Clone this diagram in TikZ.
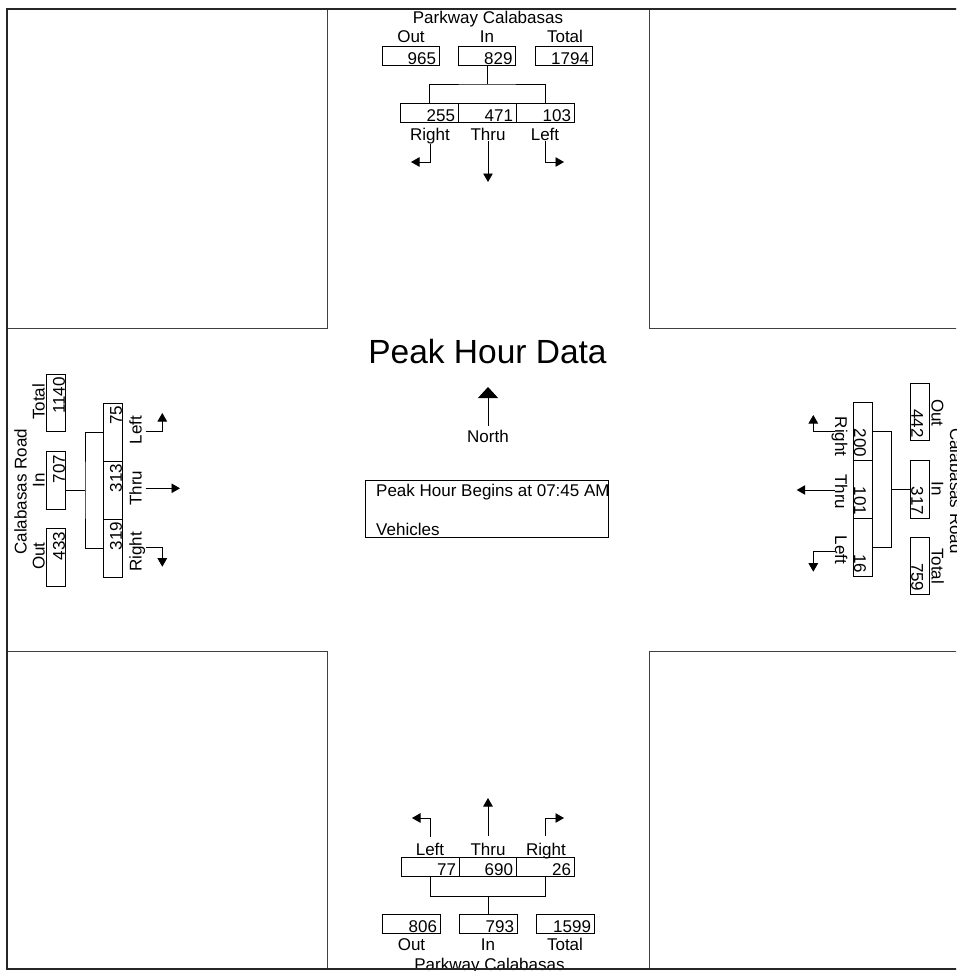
\documentclass[tikz,border=0pt]{standalone}
\usepackage{fontspec}
\setmainfont{Liberation Sans}
\usetikzlibrary{arrows.meta}
\newcommand\fsz{\fontsize{17}{19}\selectfont}
\newcommand\fbig{\fontsize{33.5}{36}\selectfont}
\begin{document}
\begin{tikzpicture}[x=1pt,y=-1pt,
  lab/.style={font=\fsz, inner sep=0pt},
  nb/.style={draw, line width=0.8pt, font=\fsz, minimum height=19pt, inner ysep=0pt, inner xsep=3pt,
    text width=#1, align=right, text height=17.5pt, text depth=0pt},
  ln/.style={line width=0.9pt},
  arr/.style={ln, -{Triangle[width=9.5pt,length=8.5pt]}},
  frame/.style={line width=2.6pt, black!85},
  cb/.style={line width=1pt, black!75}]
\useasboundingbox (0,0) rectangle (956,971);
\clip (0,0) rectangle (956,971);
\fill[white] (0,0) rectangle (956,971);

% corner blocks
\draw[cb] (7,9) rectangle (327,328);
\draw[cb] (649,9) rectangle (975,328);
\draw[cb] (7,651) rectangle (327,969);
\draw[cb] (649,651) rectangle (975,969);

% ---------------- top approach ----------------
\node[lab, anchor=base] (tTitle) at (488,23.5) {Parkway Calabasas};
\node[lab, anchor=base] (tOutL) at (411,43) {Out};
\node[lab, anchor=base] (tInL) at (487,43) {In};
\node[lab, anchor=base] (tTotL) at (565,43) {Total};
\node[nb=51pt] (tOut) at (410.5,55.5) {965};
\node[nb=51pt] (tIn) at (487,55.5) {829};
\node[nb=51pt] (tTot) at (563.5,55.5) {1794};
\node[nb=52pt] (tR) at (429,113) {255};
\node[nb=52pt] (tT) at (487,113) {471};
\node[nb=52pt] (tL) at (545,113) {103};
\coordinate (tJ) at (487,84);
\draw[ln] (tIn.south) -- (tJ);
\draw[ln] (tR.north) |- (tJ) -| (tL.north);
\node[lab, anchor=base] (tRL) at (430,140.5) {Right};
\node[lab, anchor=base] (tTL) at (488,140.5) {Thru};
\node[lab, anchor=base] (tLL) at (545,140.5) {Left};
\coordinate (tRa) at (411,162);
\coordinate (tTa) at (488,182);
\coordinate (tLa) at (564,162);
\draw[arr] (tRL.south) |- (tRa);
\draw[arr] (tTL.south) -- (tTa);
\draw[arr] (tLL.south) |- (tLa);

% ---------------- bottom approach ----------------
\node[lab, anchor=base] (bLL) at (430,855) {Left};
\node[lab, anchor=base] (bTL) at (488,855) {Thru};
\node[lab, anchor=base] (bRL) at (546,855) {Right};
\coordinate (bLa) at (412,818);
\coordinate (bTa) at (488,798);
\coordinate (bRa) at (564,818);
\draw[arr] ([yshift=6pt]bLL.north) |- (bLa);
\draw[arr] ([yshift=6pt]bTL.north) -- (bTa);
\draw[arr] ([yshift=6pt,xshift=-1pt]bRL.north) |- (bRa);
\node[nb=52pt] (bL) at (430,866.5) {77};
\node[nb=51pt] (bT) at (487.5,866.5) {690};
\node[nb=52pt] (bR) at (545,866.5) {26};
\node[nb=52pt] (bOut) at (411,923.5) {806};
\node[nb=52pt] (bIn) at (488,923.5) {793};
\node[nb=52pt] (bTot) at (565,923.5) {1599};
\coordinate (bJ) at (488,896);
\draw[ln] (bL.south) |- (bJ) -| (bR.south);
\draw[ln] (bJ) -- (bIn.north);
\node[lab, anchor=base] (bOutL) at (411.5,950) {Out};
\node[lab, anchor=base] (bInL) at (488,950) {In};
\node[lab, anchor=base] (bTotL) at (565,950) {Total};
\node[lab, anchor=base] (bTitle) at (489.5,970.5) {Parkway Calabasas};

% ---------------- left approach ----------------
\node[lab, rotate=90, anchor=base] (lTitle) at (26.7,491.7) {Calabasas Road};
\node[lab, rotate=90, anchor=base] (lTotL) at (44.5,402) {Total};
\node[lab, rotate=90, anchor=base] (lInL) at (44.5,480) {In};
\node[lab, rotate=90, anchor=base] (lOutL) at (44.5,556) {Out};
\node[nb=51.5pt, rotate=90] (lTot) at (56.2,403) {1140};
\node[nb=51.5pt, rotate=90] (lIn) at (56.2,480.5) {707};
\node[nb=51.5pt, rotate=90] (lOut) at (56.2,557.5) {433};
\node[nb=52pt, rotate=90] (lL) at (113,432) {75};
\node[nb=52pt, rotate=90] (lT) at (113,490) {313};
\node[nb=52pt, rotate=90] (lR) at (113,548) {319};
\coordinate (lJ) at (85,490);
\draw[ln] (lIn.south |- lJ) -- (lJ);
\draw[ln] (lL.north) -| (lJ) |- (lR.north);
\node[lab, rotate=90, anchor=base] (lLL) at (141.7,430) {Left};
\node[lab, rotate=90, anchor=base] (lTL) at (141.7,488.3) {Thru};
\node[lab, rotate=90, anchor=base] (lRL) at (141.7,551.7) {Right};
\coordinate (lLa) at (162.3,413);
\coordinate (lTa) at (180,488.3);
\coordinate (lRa) at (162.3,566.7);
\draw[arr] ([xshift=4pt,yshift=-1.7pt]lLL.base) -| (lLa);
\draw[arr] ([xshift=4pt]lTL.base) -- (lTa);
\draw[arr] ([xshift=4pt,yshift=4pt]lRL.base) -| (lRa);

% ---------------- right approach ----------------
\node[lab, rotate=-90, anchor=base] (rTitle) at (950,491) {Calabasas Road};
\node[lab, rotate=-90, anchor=base] (rOutL) at (931.5,413) {Out};
\node[lab, rotate=-90, anchor=base] (rInL) at (931.5,489) {In};
\node[lab, rotate=-90, anchor=base] (rTotL) at (931.5,566) {Total};
\node[nb=51.5pt, rotate=-90] (rOut) at (920,412) {442};
\node[nb=51.5pt, rotate=-90] (rIn) at (920,489.5) {317};
\node[nb=51.5pt, rotate=-90] (rTot) at (920,565.7) {759};
\node[nb=52pt, rotate=-90] (rR) at (862.8,431) {200};
\node[nb=52pt, rotate=-90] (rT) at (862.8,489) {101};
\node[nb=52pt, rotate=-90] (rL) at (862.8,547) {16};
\coordinate (rJ) at (891,489);
\draw[ln] (rR.north) -| (rJ) |- (rL.north);
\draw[ln] (rJ) -- (rIn.south |- rJ);
\node[lab, rotate=-90, anchor=base] (rRL) at (835,436.7) {Right};
\node[lab, rotate=-90, anchor=base] (rTL) at (835,491.7) {Thru};
\node[lab, rotate=-90, anchor=base] (rLL) at (835,550) {Left};
\coordinate (rRa) at (813.3,415);
\coordinate (rTa) at (796.7,490);
\coordinate (rLa) at (813.3,571.7);
\draw[arr] ([yshift=5pt]rRL.base) -| (rRa);
\draw[arr] ([yshift=1.7pt]rTL.base) -- (rTa);
\draw[arr] ([yshift=-1.7pt]rLL.base) -| (rLa);

% ---------------- centre ----------------
\node[lab, font=\fbig, anchor=base] (title) at (487.5,363) {Peak Hour Data};
\node[lab, anchor=base] (north) at (488,442.7) {North};
\coordinate (nTip) at (488,387);
\draw[ln, -{Triangle[width=20pt,length=11pt]}] ([yshift=4pt]north.north) -- (nTip);
\node[draw, ln, minimum width=243pt, minimum height=57pt, inner sep=0pt, anchor=north west] (info) at (365,480) {};
\node[lab, anchor=base west] (pb) at (376,496.5) {Peak Hour Begins at 07:45 AM};
\node[lab, anchor=base west] (veh) at (376,535) {Vehicles};

% outer frame (drawn last, over the edge text)
\draw[frame] (7,9) -- (975,9);
\draw[frame] (7,8) -- (7,970);
\draw[frame] (7,969) -- (975,969);
\end{tikzpicture}
\end{document}
